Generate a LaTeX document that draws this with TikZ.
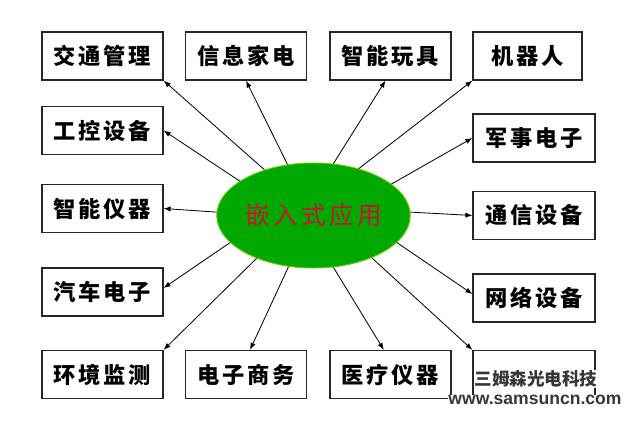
\documentclass[tikz,border=0pt]{standalone}
\usepackage{fontspec}
\usepackage{tikz}
\usetikzlibrary{arrows.meta,shapes.geometric}
\newfontfamily\boxfont[LetterSpace=12]{Noto Sans CJK SC}
\newfontfamily\hubfont[LetterSpace=14]{Noto Sans CJK SC}
\newfontfamily\wmfont{Noto Sans CJK SC}
\definecolor{hubgreen}{RGB}{0,168,0}
\definecolor{hubred}{RGB}{200,20,50}
\definecolor{wmgray}{RGB}{55,55,55}

\begin{document}
\begin{tikzpicture}[x=0.03cm, y=-0.03cm,
        box/.style={draw=black!85, line width=1pt, fill=white, minimum width=3.63cm, minimum height=1.44cm, inner sep=0pt, font=\boxfont\bfseries\fontsize{19}{19}\selectfont},
        hub/.style={ellipse, fill=hubgreen, draw=hubgreen!60!yellow, line width=0.8pt, minimum width=5.73cm, minimum height=3.15cm, inner sep=0pt, text=hubred, font=\hubfont\fontsize{21}{21}\selectfont},
        spoke/.style={-{Latex[length=6pt,width=4.5pt]}, line width=0.7pt},
        wmark/.style={fill=white, inner sep=0.5pt, text=wmgray}]
        \useasboundingbox (0,0) rectangle (640,424);

        \node[hub] (app) at (313.5,215.5) {嵌入式应用};

        \node[box] (jt) at (102.5,56) {交通管理};
        \node[box] (xx) at (246,56) {信息家电};
        \node[box] (wj) at (390.5,56) {智能玩具};
        \node[box, minimum width=3.27cm] (jqr) at (527.5,56) {机器人};

        \node[box] (gk) at (102.5,130.5) {工控设备};
        \node[box] (yq) at (102.5,208.5) {智能仪器};
        \node[box] (qc) at (102.5,292) {汽车电子};

        \node[box, minimum width=3.66cm] (js) at (534,138) {军事电子};
        \node[box, minimum width=3.66cm] (tx) at (534,215.5) {通信设备};
        \node[box, minimum width=3.66cm] (wl) at (534,298) {网络设备};

        \node[box] (hj) at (102.5,374.5) {环境监测};
        \node[box] (sw) at (246,374.5) {电子商务};
        \node[box] (yl) at (390.5,374.5) {医疗仪器};
        \node[box, minimum width=3.66cm] (last) at (534,374.5) {};

        \draw[spoke] (app.137) -- (jt.south east);
        \draw[spoke] (app.117) -- (xx.south);
        \draw[spoke] (app.69) -- ([xshift=-0.15cm]wj.south);
        \draw[spoke] (app.46) -- (jqr.south west);
        \draw[spoke] (app.155) -- (gk.east);
        \draw[spoke] (app.178) -- (yq.east);
        \draw[spoke] (app.22) -- (js.west);
        \draw[spoke] (app.2) -- (tx.west);
        \draw[spoke] (app.198) -- ([yshift=0.12cm]qc.east);
        \draw[spoke] (app.342) -- ([yshift=0.12cm]wl.west);
        \draw[spoke] (app.217) -- (hj.north east);
        \draw[spoke] (app.244) -- ([xshift=0.12cm]sw.north);
        \draw[spoke] (app.291) -- ([xshift=-0.2cm]yl.north);
        \draw[spoke] (app.324) -- (last.north west);

        % watermark over the last box
        \node[wmark, font=\wmfont\bfseries\fontsize{15}{15}\selectfont] (wm1) at (536,379) {三姆森光电科技};
        \node[wmark, font=\fontspec{Liberation Sans}\bfseries\fontsize{15}{15}\selectfont] (wm2) at (535,400) {www.samsuncn.com};
    \end{tikzpicture}
\end{document}
